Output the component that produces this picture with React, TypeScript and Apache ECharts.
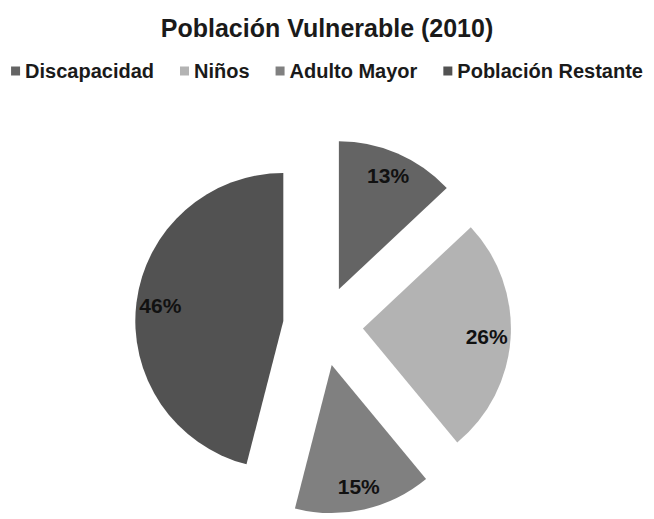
import React, { useEffect, useRef } from "react";
import * as echarts from "echarts";

const titleText = "Población Vulnerable (2010)";
const categories = ["Discapacidad", "Niños", "Adulto Mayor", "Población Restante"];
const values = [13, 26, 15, 46];
const colors = ["#646464", "#b3b3b3", "#808080", "#525252"];

const FONT = "'Liberation Sans', Arial, sans-serif";

export default function App() {
  const ref = useRef<HTMLDivElement>(null);
  useEffect(() => {
    if (!ref.current) return;
    const chart = echarts.init(ref.current, undefined, { renderer: "svg" });
    const baseData = categories.map((name, i) => ({
      name,
      value: values[i],
      selected: true,
      itemStyle: { color: colors[i] },
      select: { itemStyle: { color: colors[i] } },
    }));
    const labelData = categories.map((name, i) => ({
      name,
      value: values[i],
      selected: true,
      itemStyle: { color: "rgba(0,0,0,0)" },
      select: { itemStyle: { color: "rgba(0,0,0,0)" } },
    }));
    const common = {
      type: "pie" as const,
      center: [323, 326],
      startAngle: 90,
      clockwise: true,
      selectedMode: "multiple" as const,
      selectedOffset: 40,
      avoidLabelOverlap: false,
      labelLine: { show: false },
      emphasis: { disabled: true },
    };
    chart.setOption({
      animation: false,
      backgroundColor: "#ffffff",
      title: {
        text: titleText,
        left: "center",
        top: 10,
        textStyle: { fontFamily: FONT, fontSize: 25, fontWeight: "bold", color: "#1a1a1a" },
      },
      legend: {
        data: categories,
        top: 61,
        left: "center",
        padding: 0,
        icon: "rect",
        itemWidth: 9,
        itemHeight: 9,
        itemGap: 26,
        selectedMode: false,
        textStyle: { fontFamily: FONT, fontSize: 20, fontWeight: "bold", color: "#1a1a1a" },
      },
      series: [
        {
          ...common,
          name: "base",
          radius: [0, 148],
          label: { show: false },
          data: baseData,
        },
        {
          ...common,
          name: "labels",
          radius: [94, 148],
          silent: true,
          label: {
            show: true,
            position: "inside",
            formatter: "{c}%",
            fontFamily: FONT,
            fontSize: 21,
            fontWeight: "bold",
            color: "#111111",
          },
          data: labelData,
        },
      ],
    });
    return () => chart.dispose();
  }, []);
  return (
    <div
      ref={ref}
      style={{ position: "fixed", left: 0, top: 0, width: 654, height: 519 }}
    />
  );
}
